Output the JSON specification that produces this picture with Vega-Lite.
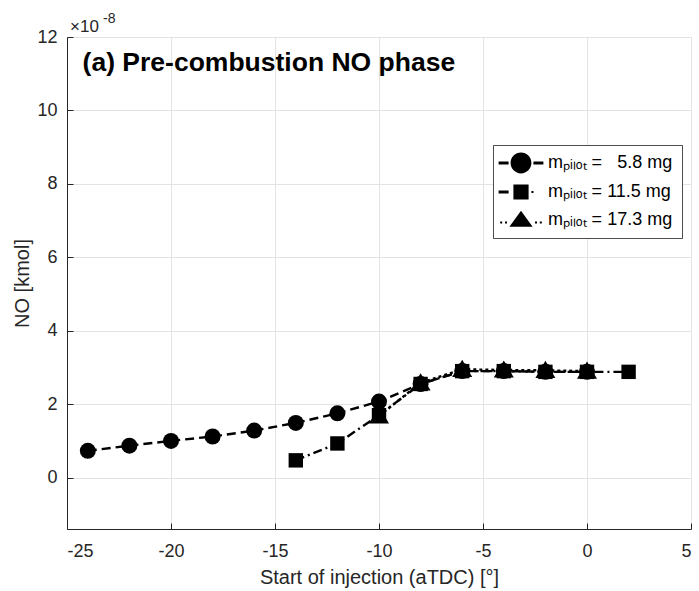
{
  "$schema": "https://vega.github.io/schema/vega-lite/v6.json",
  "width": 624,
  "height": 492,
  "autosize": {"type": "none"},
  "padding": {"left": 67, "top": 37, "right": 8, "bottom": 62},
  "background": "white",
  "config": {
    "font": "Liberation Sans",
    "view": {"stroke": null},
    "axis": {
      "domainColor": "#262626",
      "domainWidth": 1,
      "tickColor": "#262626",
      "tickSize": -6,
      "labelColor": "#262626",
      "labelFontSize": 18,
      "labelFont": "Liberation Sans",
      "labelExpr": "toString(datum.value)",
      "titleFont": "Liberation Sans",
      "titleFontWeight": "normal",
      "titleFontSize": 20,
      "titleColor": "#262626",
      "gridColor": "#e3e3e3",
      "gridWidth": 1
    }
  },
  "data": {
    "values": [
      {"soi": -24, "no": 0.73, "series": "5.8"},
      {"soi": -22, "no": 0.87, "series": "5.8"},
      {"soi": -20, "no": 1.0, "series": "5.8"},
      {"soi": -18, "no": 1.12, "series": "5.8"},
      {"soi": -16, "no": 1.28, "series": "5.8"},
      {"soi": -14, "no": 1.49, "series": "5.8"},
      {"soi": -12, "no": 1.75, "series": "5.8"},
      {"soi": -10, "no": 2.07, "series": "5.8"},
      {"soi": -8, "no": 2.55, "series": "5.8"},
      {"soi": -6, "no": 2.9, "series": "5.8"},
      {"soi": -4, "no": 2.9, "series": "5.8"},
      {"soi": -2, "no": 2.88, "series": "5.8"},
      {"soi": 0, "no": 2.88, "series": "5.8"},
      {"soi": -14, "no": 0.47, "series": "11.5"},
      {"soi": -12, "no": 0.93, "series": "11.5"},
      {"soi": -10, "no": 1.7, "series": "11.5"},
      {"soi": -8, "no": 2.55, "series": "11.5"},
      {"soi": -6, "no": 2.9, "series": "11.5"},
      {"soi": -4, "no": 2.9, "series": "11.5"},
      {"soi": -2, "no": 2.88, "series": "11.5"},
      {"soi": 0, "no": 2.88, "series": "11.5"},
      {"soi": 2, "no": 2.88, "series": "11.5"},
      {"soi": -10, "no": 1.68, "series": "17.3"},
      {"soi": -8, "no": 2.58, "series": "17.3"},
      {"soi": -6, "no": 2.95, "series": "17.3"},
      {"soi": -4, "no": 2.93, "series": "17.3"},
      {"soi": -2, "no": 2.92, "series": "17.3"},
      {"soi": 0, "no": 2.9, "series": "17.3"}
    ]
  },
  "layer": [
    {
      "transform": [{"filter": "datum.series == '5.8'"}],
      "mark": {"type": "line", "color": "black", "strokeWidth": 2.4, "strokeDash": [9, 5]},
      "encoding": {
        "x": {
          "field": "soi",
          "type": "quantitative",
          "scale": {"domain": [-25, 5], "nice": false, "zero": false},
          "axis": {
            "title": "Start of injection (aTDC) [°]",
            "values": [-25, -20, -15, -10, -5, 0, 5],
            "labelPadding": 19,
            "titlePadding": 7
          }
        },
        "y": {
          "field": "no",
          "type": "quantitative",
          "scale": {"domain": [-1.4, 12], "nice": false, "zero": false},
          "axis": {
            "title": "NO [kmol]",
            "values": [0, 2, 4, 6, 8, 10, 12],
            "labelPadding": 16,
            "titlePadding": 4
          }
        },
        "order": {"field": "soi"}
      }
    },
    {
      "transform": [{"filter": "datum.series == '11.5'"}],
      "mark": {"type": "line", "color": "black", "strokeWidth": 2.4, "strokeDash": [9, 4, 2, 4]},
      "encoding": {
        "x": {"field": "soi", "type": "quantitative"},
        "y": {"field": "no", "type": "quantitative"},
        "order": {"field": "soi"}
      }
    },
    {
      "transform": [{"filter": "datum.series == '17.3'"}],
      "mark": {"type": "line", "color": "black", "strokeWidth": 2.4, "strokeDash": [3, 3]},
      "encoding": {
        "x": {"field": "soi", "type": "quantitative"},
        "y": {"field": "no", "type": "quantitative"},
        "order": {"field": "soi"}
      }
    },
    {
      "mark": {"type": "point", "filled": true, "color": "black", "opacity": 1, "size": 256, "strokeWidth": 0},
      "encoding": {
        "x": {"field": "soi", "type": "quantitative"},
        "y": {"field": "no", "type": "quantitative"},
        "shape": {
          "field": "series",
          "type": "nominal",
          "scale": {
            "domain": ["5.8", "11.5", "17.3"],
            "range": ["circle", "M-0.9,-0.9H0.9V0.9H-0.9Z", "M0,-1.2L1.25,0.95L-1.25,0.95Z"]
          },
          "legend": null
        }
      }
    },
    {
      "transform": [{"filter": "false"}],
      "mark": {"type": "point", "filled": true, "color": "black", "opacity": 1, "size": 256, "strokeWidth": 0},
      "encoding": {
        "x": {"field": "soi", "type": "quantitative"},
        "y": {"field": "no", "type": "quantitative"},
        "shape": {
          "field": "series",
          "type": "nominal",
          "scale": {
            "domain": ["5.8", "11.5", "17.3"],
            "range": [
              "M-1.3,0A1.3,1.3,0,1,1,1.3,0A1.3,1.3,0,1,1,-1.3,0Z M-2.8,-0.2H-1.55V0.2H-2.8Z M1.55,-0.2H2.8V0.2H1.55Z",
              "M-0.95,-0.95H0.95V0.95H-0.95Z M-2.8,-0.2H-1.55V0.2H-2.8Z M1.3,-0.13H1.56V0.13H1.3Z",
              "M0,-1.15L1.45,0.85L-1.45,0.85Z M-2.6,0.2H-2.35V0.45H-2.6Z M-2.0,0.2H-1.75V0.45H-2.0Z M1.75,0.2H2.0V0.45H1.75Z M2.35,0.2H2.6V0.45H2.35Z"
            ]
          },
          "legend": {
            "title": null,
            "orient": "none",
            "legendX": 426,
            "legendY": 108,
            "labelExpr": "datum.value == '5.8' ? 'mₚᵢₗₒₜ = \u00a0\u00a05.8 mg' : datum.value == '11.5' ? 'mₚᵢₗₒₜ = 11.5 mg' : 'mₚᵢₗₒₜ = 17.3 mg'",
            "labelFontSize": 18,
            "labelFont": "Liberation Sans",
            "labelColor": "black",
            "symbolSize": 256,
            "symbolFillColor": "black",
            "symbolStrokeWidth": 0,
            "symbolOpacity": 1,
            "symbolOffset": 10,
            "rowPadding": 9,
            "padding": 9,
            "strokeColor": "#4d4d4d",
            "fillColor": "white",
            "labelOffset": 18
          }
        }
      }
    },
    {
      "data": {"values": [{"label": "(a) Pre-combustion NO phase"}]},
      "mark": {"type": "text", "align": "left", "baseline": "middle", "fontSize": 26.5, "fontWeight": "bold", "font": "Liberation Sans", "color": "black"},
      "encoding": {
        "x": {"datum": -24.25, "type": "quantitative"},
        "y": {"datum": 11.3, "type": "quantitative"},
        "text": {"field": "label"}
      }
    },
    {
      "data": {"values": [{"label": "×10"}]},
      "mark": {"type": "text", "align": "left", "baseline": "alphabetic", "fontSize": 17, "font": "Liberation Sans", "color": "#262626", "dx": 3, "dy": -5},
      "encoding": {
        "x": {"datum": -25, "type": "quantitative"},
        "y": {"datum": 12, "type": "quantitative"},
        "text": {"field": "label"}
      }
    },
    {
      "data": {"values": [{"label": "-8"}]},
      "mark": {"type": "text", "align": "left", "baseline": "alphabetic", "fontSize": 14, "font": "Liberation Sans", "color": "#262626", "dx": 36, "dy": -14},
      "encoding": {
        "x": {"datum": -25, "type": "quantitative"},
        "y": {"datum": 12, "type": "quantitative"},
        "text": {"field": "label"}
      }
    }
  ],
  "resolve": {"scale": {"shape": "independent"}, "legend": {"shape": "independent"}}
}
